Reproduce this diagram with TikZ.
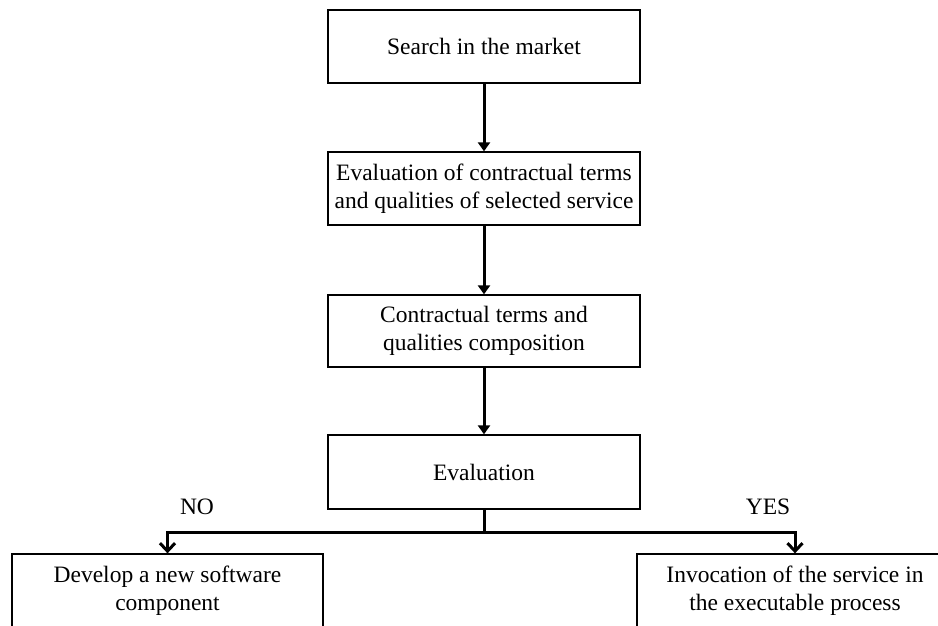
\documentclass[tikz,border=0pt]{standalone}
\usepackage{fontspec}
\setmainfont{Liberation Serif}
\usetikzlibrary{arrows.meta}
\usetikzlibrary{positioning}

\begin{document}
\begin{tikzpicture}[x=1pt,y=-1pt,
  stepbox/.style={draw,line width=1.3pt,minimum width=312pt,minimum height=73pt,inner sep=0pt,align=center,font=\fontsize{23.5}{27.5}\selectfont},
  flow/.style={line width=3pt,-{Triangle[length=9pt,width=12pt]}},
  branch/.style={line width=3pt,-{Straight Barb[length=8pt,width=15pt]}},
  answer/.style={font=\fontsize{23.5}{27.5}\selectfont}]
\useasboundingbox (0,0) rectangle (938,626);
\clip (0,0) rectangle (938,626);
\fill[white] (0,0) rectangle (938,626);

% main chain
\node[stepbox] (search) at (484,46.5) {Search in the market};
\node[stepbox] (terms) at (484,188.5) {Evaluation of contractual terms\\and qualities of selected service};
\node[stepbox,minimum height=72pt] (compose) at (484,331) {Contractual terms and\\qualities composition};
\node[stepbox,minimum height=74pt] (eval) at (484,472) {Evaluation};

% outcomes (cut by the page edge)
\node[stepbox,minimum width=311pt] (develop) at (167.5,590.5) {Develop a new software\\component};
\node[stepbox,minimum width=316pt] (invoke) at (795,590.5) {Invocation of the service in\\the executable process};

\node[answer] (no) at (197,507) {NO};
\node[answer] (yes) at (768,507) {YES};

\draw[flow] (search) -- (terms);
\draw[flow] (terms) -- (compose);
\draw[flow] (compose) -- (eval);

\coordinate (split) at (484,532.5);
\draw[line width=3pt] (eval) -- (split);
\draw[branch] (split) -| (develop.north);
\draw[branch] (split) -| (invoke.north);

\end{tikzpicture}
\end{document}
